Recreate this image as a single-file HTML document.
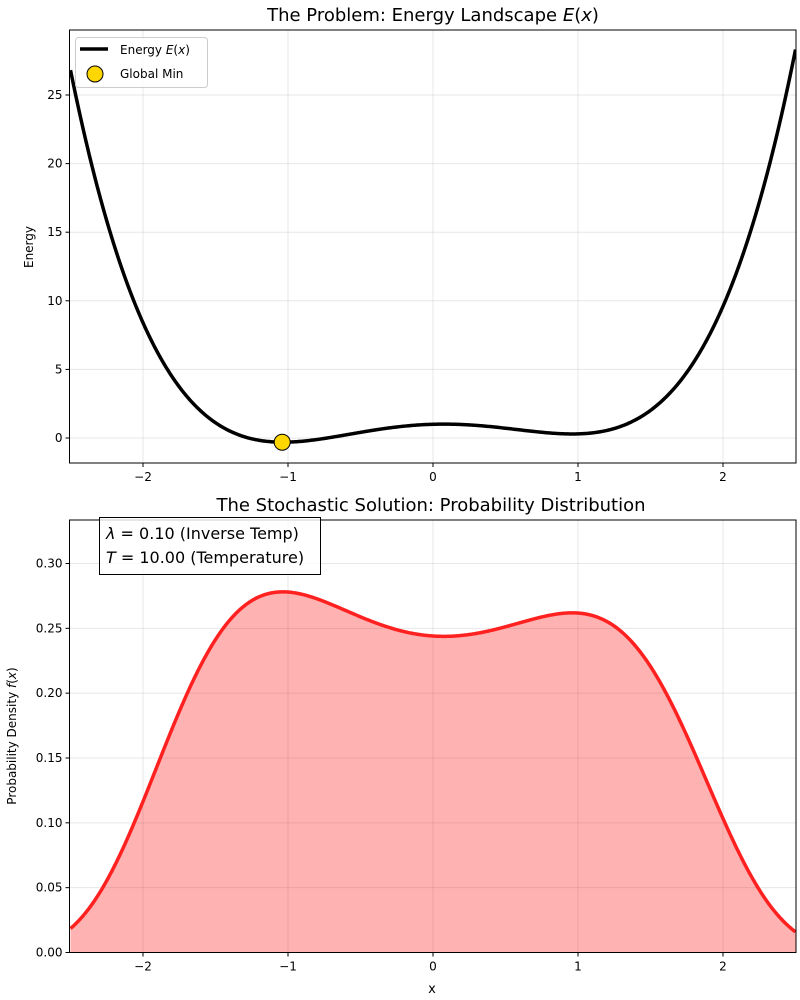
<!DOCTYPE html>
<html><head><meta charset="utf-8">
<style>
body{margin:0;background:#fff;}
svg{display:block;font-family:"DejaVu Sans","Liberation Sans",sans-serif;}
</style></head>
<body>
<svg id="s" width="800" height="1000" xmlns="http://www.w3.org/2000/svg">
<rect width="800" height="1000" fill="#fff"/>
<g id="g1"></g>
<!-- titles -->
<text x="433" y="21" font-size="18" text-anchor="middle">The Problem: Energy Landscape <tspan font-style="italic">E</tspan>(<tspan font-style="italic">x</tspan>)</text>
<text x="431" y="511" font-size="18" text-anchor="middle">The Stochastic Solution: Probability Distribution</text>
<text x="33" y="247" font-size="12" text-anchor="middle" transform="rotate(-90 33 247)">Energy</text>
<text x="16" y="736" font-size="12" text-anchor="middle" transform="rotate(-90 16 736)">Probability Density <tspan font-style="italic">f</tspan>(<tspan font-style="italic">x</tspan>)</text>
<text x="432" y="993" font-size="13" text-anchor="middle">x</text>
<!-- legend -->
<rect x="75.5" y="37.5" width="132" height="50" rx="3" fill="#fff" fill-opacity="0.8" stroke="#ccc"/>
<line x1="80" y1="49" x2="108" y2="49" stroke="#000" stroke-width="3.5"/>
<text x="120" y="54" font-size="12">Energy <tspan font-style="italic">E</tspan>(<tspan font-style="italic">x</tspan>)</text>
<circle cx="95" cy="74" r="8" fill="#FFD700" stroke="#000"/>
<text x="120" y="78" font-size="12">Global Min</text>
<!-- text box -->
<rect x="99.5" y="517.5" width="221" height="57" fill="#fff" fill-opacity="0.8" stroke="#000"/>
<text x="106" y="539" font-size="16"><tspan font-style="italic">λ</tspan> = 0.10 (Inverse Temp)</text>
<text x="106" y="563" font-size="16"><tspan font-style="italic">T</tspan> = 10.00 (Temperature)</text>
</svg>
<script>
var g=document.getElementById('g1');var h='';
function X(x){return 433+145*x;}
function E(x){return x*x*x*x-2*x*x+0.3*x+1;}
// top panel
var T=30,B=463,L=69.5,R=796;
function Y1(y){return 438-13.72*y;}
for(var i=-2;i<=2;i++){h+='<line x1="'+X(i)+'" y1="'+T+'" x2="'+X(i)+'" y2="'+B+'" stroke="#b0b0b0" stroke-opacity="0.3"/>';}
for(var v=0;v<=25;v+=5){h+='<line x1="'+L+'" y1="'+Y1(v)+'" x2="'+R+'" y2="'+Y1(v)+'" stroke="#b0b0b0" stroke-opacity="0.3"/>';
h+='<line x1="'+(L-4)+'" y1="'+Y1(v)+'" x2="'+L+'" y2="'+Y1(v)+'" stroke="#000"/><text x="'+(L-7)+'" y="'+(Y1(v)+4)+'" font-size="12" text-anchor="end">'+v+'</text>';}
var p='';var n=600;
for(var k=0;k<=n;k++){var x=-2.5+5*k/n;p+=(k?'L':'M')+X(x).toFixed(2)+' '+Y1(E(x)).toFixed(2);}
h+='<clipPath id="c1"><rect x="'+L+'" y="'+T+'" width="'+(R-L)+'" height="'+(B-T)+'"/></clipPath>';
h+='<path d="'+p+'" fill="none" stroke="#000" stroke-width="3.5" clip-path="url(#c1)"/>';
var xm=-1.04;h+='<circle cx="'+X(xm)+'" cy="'+Y1(E(xm))+'" r="8" fill="#FFD700" stroke="#000"/>';
h+='<rect x="'+L+'" y="'+T+'" width="'+(R-L)+'" height="'+(B-T)+'" fill="none" stroke="#000"/>';
for(var i=-2;i<=2;i++){h+='<line x1="'+X(i)+'" y1="'+B+'" x2="'+X(i)+'" y2="'+(B+4)+'" stroke="#000"/><text x="'+X(i)+'" y="'+(B+18)+'" font-size="12" text-anchor="middle">'+(i<0?'−'+(-i):i)+'</text>';}
// bottom panel
var T2=520,B2=952.5;
function Y2(y){return 952.5-1296.7*y;}
var Z=0,m=2000;for(var k=0;k<m;k++){var x=-2.5+5*(k+0.5)/m;Z+=Math.exp(-0.1*E(x))*5/m;}
for(var i=-2;i<=2;i++){h+='<line x1="'+X(i)+'" y1="'+T2+'" x2="'+X(i)+'" y2="'+B2+'" stroke="#b0b0b0" stroke-opacity="0.3"/>';}
for(var v=0;v<=6;v++){var yy=Y2(v*0.05);h+='<line x1="'+L+'" y1="'+yy+'" x2="'+R+'" y2="'+yy+'" stroke="#b0b0b0" stroke-opacity="0.3"/>';
h+='<line x1="'+(L-4)+'" y1="'+yy+'" x2="'+L+'" y2="'+yy+'" stroke="#000"/><text x="'+(L-7)+'" y="'+(yy+4)+'" font-size="12" text-anchor="end">'+(v*0.05).toFixed(2)+'</text>';}
var q='';for(var k=0;k<=n;k++){var x=-2.5+5*k/n;q+=(k?'L':'M')+X(x).toFixed(2)+' '+Y2(Math.exp(-0.1*E(x))/Z).toFixed(2);}
h+='<path d="'+q+'L'+X(2.5)+' '+B2+'L'+X(-2.5)+' '+B2+'Z" fill="#ff0000" fill-opacity="0.3"/>';
h+='<path d="'+q+'" fill="none" stroke="#ff2020" stroke-width="3.5"/>';
h+='<rect x="'+L+'" y="'+T2+'" width="'+(R-L)+'" height="'+(B2-T2)+'" fill="none" stroke="#000"/>';
for(var i=-2;i<=2;i++){h+='<line x1="'+X(i)+'" y1="'+B2+'" x2="'+X(i)+'" y2="'+(B2+4)+'" stroke="#000"/><text x="'+X(i)+'" y="'+(B2+18)+'" font-size="12" text-anchor="middle">'+(i<0?'−'+(-i):i)+'</text>';}
g.innerHTML=h;
</script>
</body></html>
